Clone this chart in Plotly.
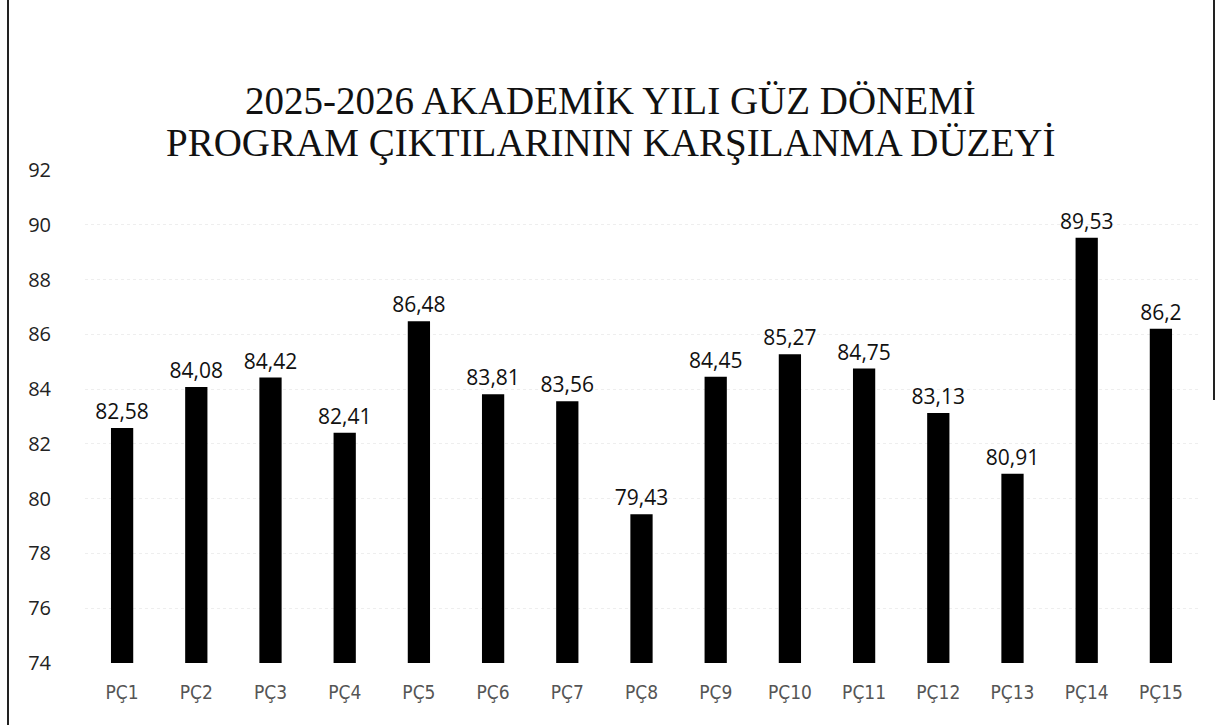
import plotly.graph_objects as go

categories = ["PÇ1", "PÇ2", "PÇ3", "PÇ4", "PÇ5", "PÇ6", "PÇ7", "PÇ8",
              "PÇ9", "PÇ10", "PÇ11", "PÇ12", "PÇ13", "PÇ14", "PÇ15"]
values = [82.58, 84.08, 84.42, 82.41, 86.48, 83.81, 83.56, 79.43,
          84.45, 85.27, 84.75, 83.13, 80.91, 89.53, 86.2]
y_ticks = [74, 76, 78, 80, 82, 84, 86, 88, 90, 92]
title_lines = ["2025-2026 AKADEMİK YILI GÜZ DÖNEMİ",
               "PROGRAM ÇIKTILARININ KARŞILANMA DÜZEYİ"]

labels = [f"{v:g}".replace(".", ",") for v in values]

W, H = 1217, 725
L, R, T, B = 85, 19, 170, 62
PW, PH = W - L - R, H - T - B

fig = go.Figure(go.Bar(
    x=categories, y=[v - 74 for v in values], base=74,
    marker=dict(color="#000000", line=dict(width=0)),
    text=labels, textposition="outside", cliponaxis=False,
    constraintext="none",
    textfont=dict(family="Open Sans, DejaVu Sans", size=21, color="#111111"),
))

annotations = []
for line, ypx in zip(title_lines, [100, 143]):
    annotations.append(dict(
        text=line, xref="paper", yref="paper",
        x=(610 - L) / PW, y=1 + (T - ypx) / PH,
        xanchor="center", yanchor="middle", showarrow=False,
        font=dict(family="Liberation Serif, Times New Roman, serif", size=39, color="#111111"),
    ))

fig.update_layout(
    width=W, height=H,
    margin=dict(l=L, r=R, t=T, b=B),
    paper_bgcolor="white", plot_bgcolor="white",
    bargap=0.7,
    showlegend=False,
    annotations=annotations,
    xaxis=dict(
        showline=False, showgrid=False, zeroline=False, ticks="",
        ticklabelstandoff=16,
        tickfont=dict(family="DejaVu Sans Condensed, Liberation Sans Narrow, sans-serif", size=19, color="#555555"),
    ),
    yaxis=dict(
        range=[74, 92], tickvals=y_ticks,
        showline=False, zeroline=False,
        showgrid=True, gridcolor="#eeeeee", griddash="dot", gridwidth=1,
        ticks="", ticklabelstandoff=33,
        tickfont=dict(family="Open Sans, DejaVu Sans", size=20, color="#222222"),
    ),
    shapes=[
        dict(type="line", xref="paper", yref="paper",
             x0=(8 - L) / PW, x1=(8 - L) / PW,
             y0=-B / PH, y1=1 + T / PH,
             line=dict(color="#222222", width=2)),
        dict(type="line", xref="paper", yref="paper",
             x0=(1214 - L) / PW, x1=(1214 - L) / PW,
             y0=1 - (400 - T) / PH, y1=1 + T / PH,
             line=dict(color="#222222", width=2)),
    ],
)

fig.write_html("out.html", config={"displayModeBar": False},
               post_script="document.body.style.margin='0';")
